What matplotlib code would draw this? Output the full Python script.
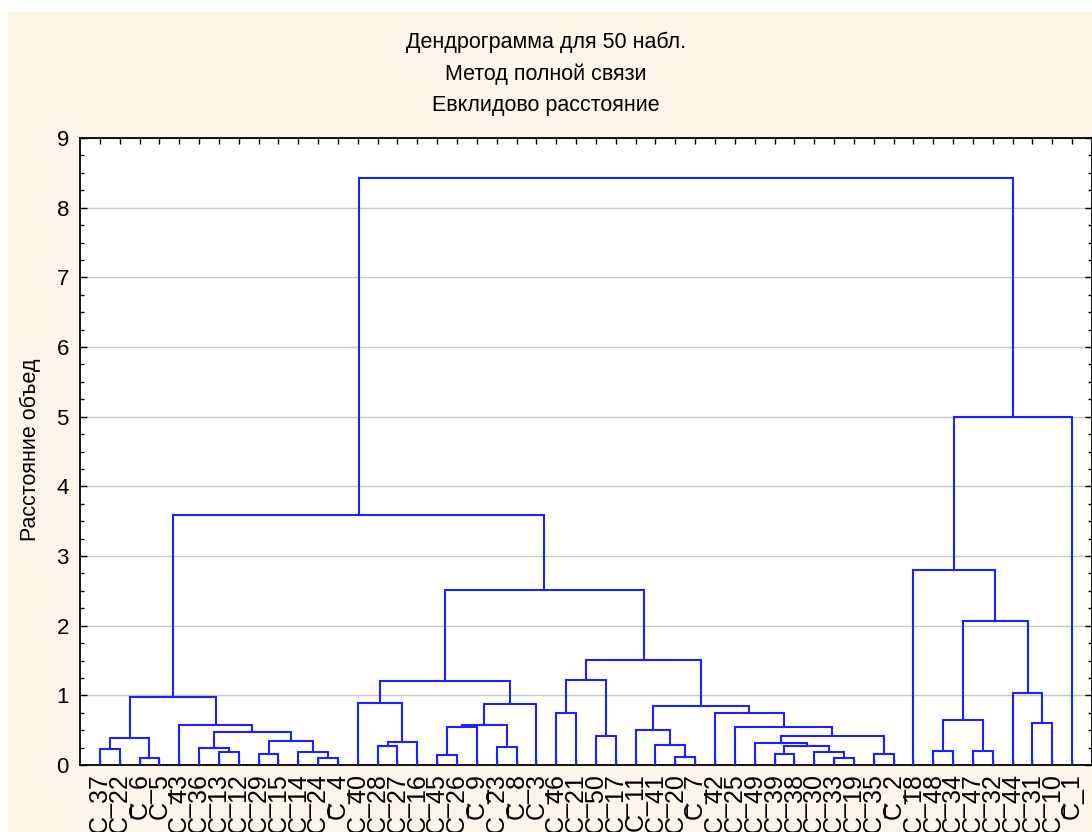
import matplotlib.pyplot as plt
from matplotlib.patches import Rectangle
from matplotlib.ticker import MultipleLocator

plt.rcParams['font.family'] = ['Liberation Sans', 'DejaVu Sans']

# leaf order as shown on the x axis
labels = ['C_37', 'C_22', 'C_6', 'C_5', 'C_43', 'C_36', 'C_13', 'C_12', 'C_29', 'C_15',
          'C_14', 'C_24', 'C_4', 'C_40', 'C_28', 'C_27', 'C_16', 'C_45', 'C_26', 'C_9',
          'C_23', 'C_8', 'C_3', 'C_46', 'C_21', 'C_50', 'C_17', 'C_11', 'C_41', 'C_20',
          'C_7', 'C_42', 'C_25', 'C_49', 'C_39', 'C_38', 'C_30', 'C_33', 'C_19', 'C_35',
          'C_2', 'C_18', 'C_48', 'C_34', 'C_47', 'C_32', 'C_44', 'C_31', 'C_10', 'C_1']

# merges: (left, right, height); int = index of an earlier merge, str = leaf
merges = [
    ('C_37', 'C_22', 0.23), ('C_6', 'C_5', 0.10), (0, 1, 0.39),
    ('C_13', 'C_12', 0.18), ('C_36', 3, 0.24), ('C_29', 'C_15', 0.16),
    ('C_24', 'C_4', 0.10), ('C_14', 6, 0.18), (5, 7, 0.34), (4, 8, 0.47),
    ('C_43', 9, 0.58), (2, 10, 0.97),
    ('C_28', 'C_27', 0.27), (12, 'C_16', 0.33), ('C_40', 13, 0.89),
    ('C_45', 'C_26', 0.14), (15, 'C_9', 0.54), ('C_23', 'C_8', 0.26),
    (16, 17, 0.58), (18, 'C_3', 0.88), (14, 19, 1.20),
    ('C_46', 'C_21', 0.74), ('C_50', 'C_17', 0.41), (21, 22, 1.22),
    ('C_20', 'C_7', 0.12), ('C_41', 24, 0.29), ('C_11', 25, 0.50),
    ('C_39', 'C_38', 0.16), ('C_33', 'C_19', 0.10), ('C_30', 28, 0.18),
    (27, 29, 0.27), ('C_49', 30, 0.32), ('C_35', 'C_2', 0.16), (31, 32, 0.41),
    ('C_25', 33, 0.55), ('C_42', 34, 0.74), (26, 35, 0.85), (23, 36, 1.51),
    (20, 37, 2.51), (11, 38, 3.59),
    ('C_48', 'C_34', 0.20), ('C_47', 'C_32', 0.20), (40, 41, 0.64),
    ('C_31', 'C_10', 0.60), ('C_44', 43, 1.04), (42, 44, 2.06),
    ('C_18', 45, 2.80), (46, 'C_1', 5.00), (39, 47, 8.42),
]

title_lines = ['Дендрограмма для 50 набл.', 'Метод полной связи', 'Евклидово расстояние']
ylabel = 'Расстояние объед'

pos = {lab: i + 1 for i, lab in enumerate(labels)}
nodes = []


def coord(n):
    if isinstance(n, str):
        return pos[n], 0.0
    return nodes[n]


fig = plt.figure(figsize=(10.92, 8.32), dpi=100)
fig.patch.set_facecolor('white')
fig.patches.append(Rectangle((8 / 1092, 0), 1, 1 - 12 / 832, transform=fig.transFigure,
                             facecolor='#fbf6e7', edgecolor='none', zorder=-10))

ax = fig.add_axes([80 / 1092, 67 / 832, 1012 / 1092, 627 / 832])
ax.set_facecolor('white')

for a, b, h in merges:
    xa, ha = coord(a)
    xb, hb = coord(b)
    ax.plot([xa, xa, xb, xb], [ha, h, h, hb], color='#2020ff', lw=1.5,
            solid_joinstyle='miter', zorder=3)
    nodes.append(((xa + xb) / 2, h))

ax.set_xlim(0, 51)
ax.set_ylim(0, 9)
ax.set_xticks(range(1, len(labels) + 1))
ax.set_xticklabels(labels, rotation=90, fontsize=18)
ax.tick_params(axis='x', direction='in', top=True, length=4, width=1, pad=6)
ax.set_yticks(range(10))
ax.yaxis.set_minor_locator(MultipleLocator(0.25))
ax.tick_params(axis='y', which='major', direction='in', right=True, length=5,
               width=1, labelsize=16, pad=8)
ax.tick_params(axis='y', which='minor', direction='in', right=True, length=3, width=1)
ax.grid(axis='y', color='#c8c8c8', lw=1)
ax.set_axisbelow(True)
for s in ax.spines.values():
    s.set_linewidth(1.3)

for i, t in enumerate(title_lines):
    fig.text(0.5, 1 - (42 + 32 * i) / 832, t, ha='center', va='center', fontsize=15.5)
fig.text(30 / 1092, 1 - 450 / 832, ylabel, rotation=90, ha='center', va='center',
         fontsize=15.5)

fig.savefig('out.png', dpi=100)
